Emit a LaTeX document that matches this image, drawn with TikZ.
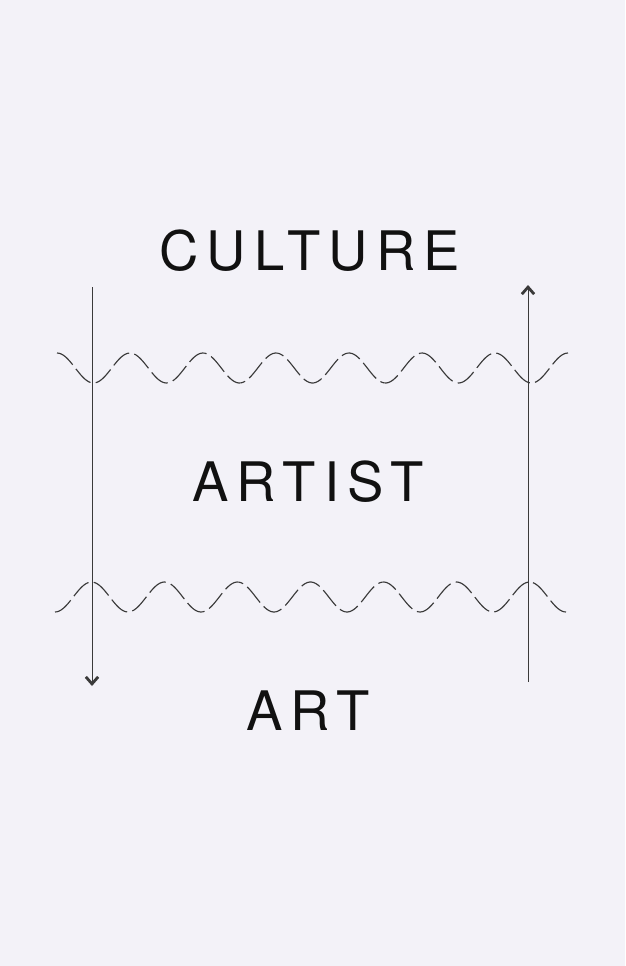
\documentclass[tikz,border=0pt]{standalone}
\usepackage{fontspec}
\setmainfont{TeX Gyre Heros}
\newfontfamily\spaced[LetterSpace=15]{TeX Gyre Heros}
\usetikzlibrary{arrows.meta}
\definecolor{paper}{HTML}{F3F2F8}
\definecolor{ink}{HTML}{111111}
\definecolor{wire}{HTML}{3A3A3A}

\begin{document}
\begin{tikzpicture}[x=0.02cm,y=-0.02cm,
  word/.style={anchor=base west,inner sep=0,text=ink,font=\spaced\fontsize{31}{37}\selectfont},
  wave/.style={wire,line width=0.65pt,dash pattern=on 11.5pt off 3pt},
  axis/.style={wire,line width=0.5pt,-{Straight Barb[length=4pt,width=7pt,line width=1.6pt]}}]
\fill[paper] (0,0) rectangle (625,966);

\node[word] (culture) at (159,270) {CULTURE};
\node[word] (artist) at (192,501) {ARTIST};
\node[word] (art) at (246,730) {ART};

\coordinate (downtop) at (92,287);
\coordinate (downend) at (92,686);
\coordinate (upbot) at (528,682);
\coordinate (uptop) at (528,285);
\draw[axis] (downtop) -- (downend);
\draw[axis] (upbot) -- (uptop);

%\draw[wave] (60,368) -- (570,368);
\draw[wave] plot[domain=57:568,samples=240] (\x,{368-15*cos(4.9315*(\x-57))});
\draw[wave] plot[domain=55:566,samples=240] (\x,{597+15*cos(4.9315*(\x-55))});

\end{tikzpicture}
\end{document}
